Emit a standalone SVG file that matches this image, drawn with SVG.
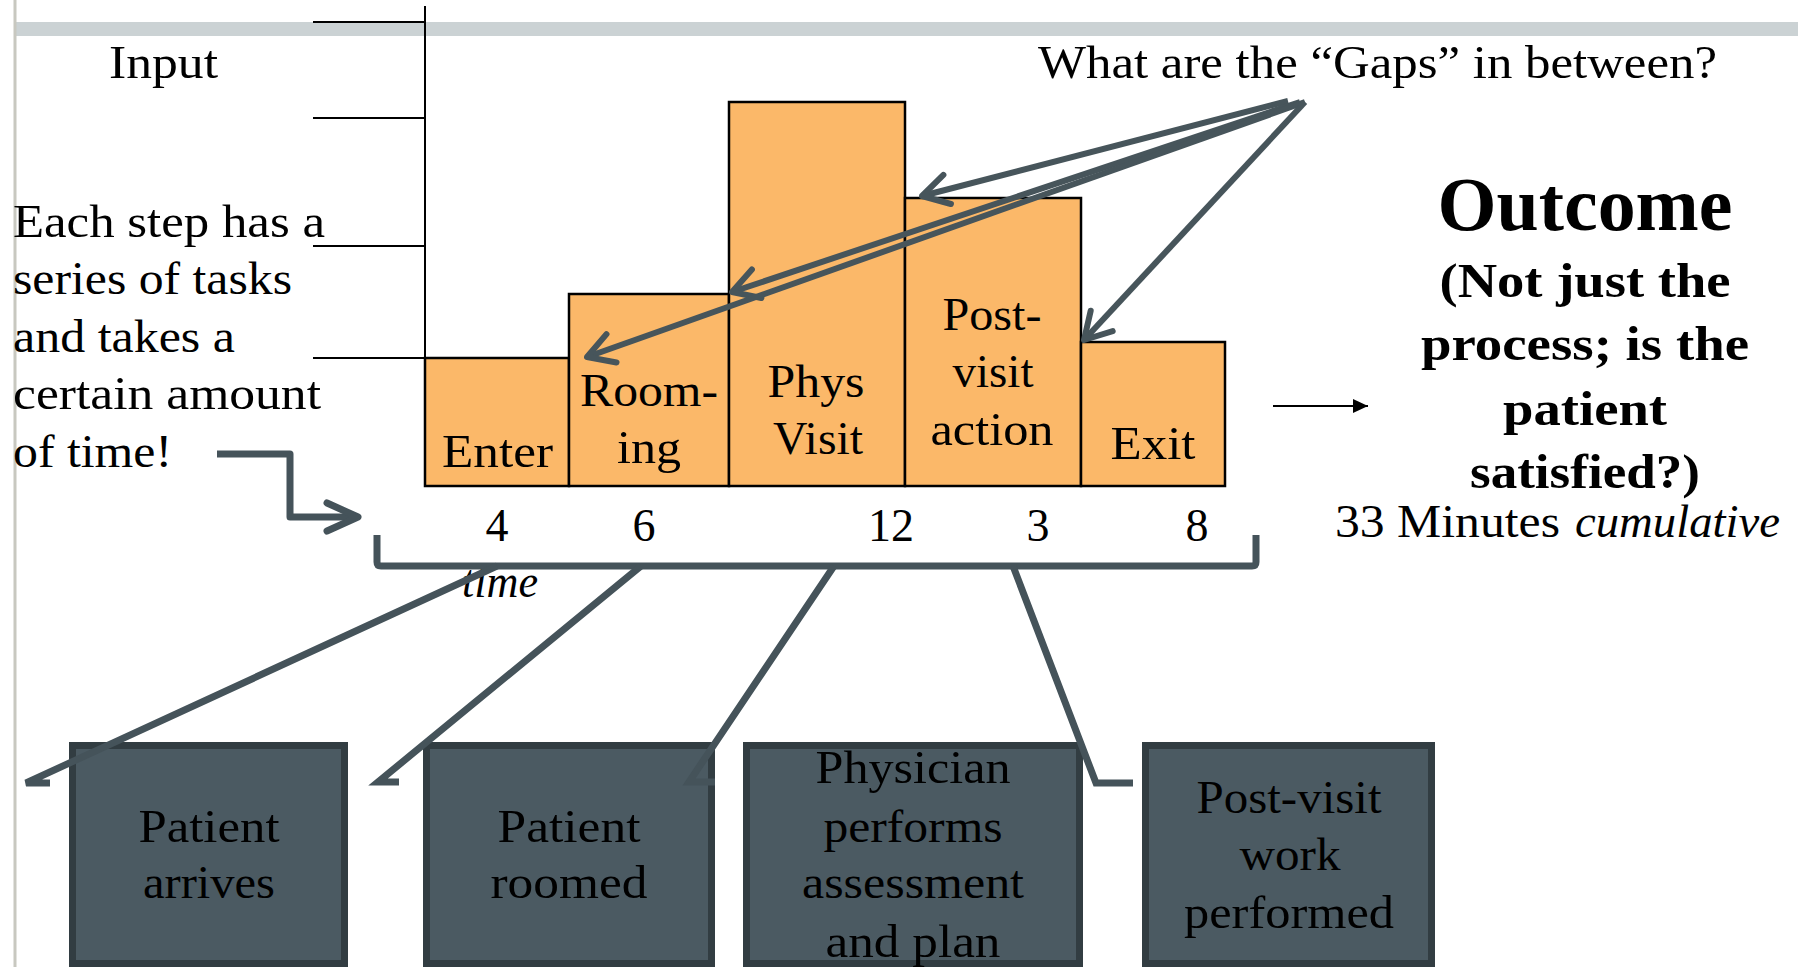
<svg xmlns="http://www.w3.org/2000/svg" width="1798" height="967" viewBox="0 0 1798 967">
  <defs>
    <style>
      .t { font-family: "Liberation Serif", "Times New Roman", serif; font-size: 46px; fill: #000; }
      .tb { font-family: "Liberation Serif", "Times New Roman", serif; font-weight: bold; fill: #000; }
      .it { font-style: italic; }
      .mid { text-anchor: middle; }
      .step { fill: #fbb869; stroke: #000; stroke-width: 2.5; }
      .task { fill: #4b5a62; stroke: #323d42; stroke-width: 7; }
      .axis { stroke: #000; stroke-width: 2; fill: none; }
      .slate { stroke: #45535a; fill: none; stroke-width: 7; }
      .gap { stroke: #47555b; fill: none; stroke-width: 6; }
    </style>
    <marker id="chev" markerUnits="userSpaceOnUse" orient="auto" refX="0" refY="0" markerWidth="40" markerHeight="40" overflow="visible">
      <path d="M-26,-15 L0,0 L-26,15" fill="none" stroke="#47555b" stroke-width="6" stroke-linecap="round" stroke-linejoin="round"/>
    </marker>
    <marker id="chevBig" markerUnits="userSpaceOnUse" orient="auto" refX="0" refY="0" markerWidth="40" markerHeight="40" overflow="visible">
      <path d="M-31,-14 L0,0 L-31,14" fill="none" stroke="#45535a" stroke-width="7" stroke-linecap="round" stroke-linejoin="round"/>
    </marker>
    <marker id="tri" markerUnits="userSpaceOnUse" orient="auto" refX="0" refY="0" markerWidth="20" markerHeight="20" overflow="visible">
      <path d="M-15,-7 L0,0 L-15,7 Z" fill="#000"/>
    </marker>
  </defs>

  <rect width="1798" height="967" fill="#fff"/>

  <!-- page frame: top band and left rule -->
  <rect x="15" y="22" width="1783" height="14" fill="#cbd2d4"/>
  <line x1="15" y1="0" x2="15" y2="967" stroke="#c8c8c0" stroke-width="3"/>

  <!-- vertical axis and tick lines -->
  <g id="axis">
    <line class="axis" x1="425" y1="6" x2="425" y2="358"/>
    <line class="axis" x1="313" y1="22" x2="425" y2="22"/>
    <line class="axis" x1="313" y1="118" x2="425" y2="118"/>
    <line class="axis" x1="313" y1="246" x2="425" y2="246"/>
    <line class="axis" x1="313" y1="358" x2="425" y2="358"/>
  </g>

  <g id="input-label">
    <text class="t" x="109" y="78" textLength="109" lengthAdjust="spacingAndGlyphs">Input</text>
  </g>

  <g id="step-note">
    <text class="t" x="13" y="237" font-size="45" textLength="312" lengthAdjust="spacingAndGlyphs">Each step has a</text>
    <text class="t" x="13" y="294" font-size="45" textLength="279" lengthAdjust="spacingAndGlyphs">series of tasks</text>
    <text class="t" x="13" y="352" font-size="45" textLength="222" lengthAdjust="spacingAndGlyphs">and takes a</text>
    <text class="t" x="13" y="409" font-size="45" textLength="308" lengthAdjust="spacingAndGlyphs">certain amount</text>
    <text class="t" x="13" y="467" font-size="45" textLength="159" lengthAdjust="spacingAndGlyphs">of time!</text>
  </g>

  <!-- process steps -->
  <g id="step-enter">
    <rect class="step" x="425" y="358" width="144" height="128"/>
    <text class="t mid" x="497.5" y="467" textLength="111" lengthAdjust="spacingAndGlyphs">Enter</text>
  </g>
  <g id="step-rooming">
    <rect class="step" x="569" y="294" width="160" height="192"/>
    <text class="t mid" x="649" y="406" textLength="138" lengthAdjust="spacingAndGlyphs">Room-</text>
    <text class="t mid" x="649" y="463" textLength="64" lengthAdjust="spacingAndGlyphs">ing</text>
  </g>
  <g id="step-phys">
    <rect class="step" x="729" y="102" width="176" height="384"/>
    <text class="t mid" x="816" y="397" textLength="97" lengthAdjust="spacingAndGlyphs">Phys</text>
    <text class="t mid" x="818" y="454" textLength="90" lengthAdjust="spacingAndGlyphs">Visit</text>
  </g>
  <g id="step-postvisit">
    <rect class="step" x="905" y="198" width="176" height="288"/>
    <text class="t mid" x="992" y="330" textLength="99" lengthAdjust="spacingAndGlyphs">Post-</text>
    <text class="t mid" x="993" y="387" textLength="81" lengthAdjust="spacingAndGlyphs">visit</text>
    <text class="t mid" x="992" y="445" textLength="123" lengthAdjust="spacingAndGlyphs">action</text>
  </g>
  <g id="step-exit">
    <rect class="step" x="1081" y="342" width="144" height="144"/>
    <text class="t mid" x="1153" y="459" textLength="85" lengthAdjust="spacingAndGlyphs">Exit</text>
  </g>

  <!-- minutes per step -->
  <g id="durations">
    <text class="t mid" x="497" y="541">4</text>
    <text class="t mid" x="644" y="541">6</text>
    <text class="t mid" x="891" y="541">12</text>
    <text class="t mid" x="1038" y="541">3</text>
    <text class="t mid" x="1197" y="541">8</text>
    <text class="t it" x="462" y="597" textLength="76" lengthAdjust="spacingAndGlyphs">time</text>
  </g>

  <g id="gaps-question">
    <text class="t" x="1038" y="78" textLength="679" lengthAdjust="spacingAndGlyphs">What are the “Gaps” in between?</text>
  </g>

  <g id="outcome">
    <text class="tb mid" x="1585" y="230" font-size="76" textLength="295" lengthAdjust="spacingAndGlyphs">Outcome</text>
    <text class="tb mid" x="1585" y="297" font-size="48" textLength="291" lengthAdjust="spacingAndGlyphs">(Not just the</text>
    <text class="tb mid" x="1585" y="360" font-size="48" textLength="328" lengthAdjust="spacingAndGlyphs">process; is the</text>
    <text class="tb mid" x="1585" y="425" font-size="48" textLength="164" lengthAdjust="spacingAndGlyphs">patient</text>
    <text class="tb mid" x="1585" y="488" font-size="48" textLength="230" lengthAdjust="spacingAndGlyphs">satisfied?)</text>
    <text class="t" x="1335" y="537" textLength="225" lengthAdjust="spacingAndGlyphs">33 Minutes</text>
    <text class="t it" x="1575" y="537" textLength="205" lengthAdjust="spacingAndGlyphs">cumulative</text>
  </g>

  <!-- tasks behind each step -->
  <g id="task-arrives">
    <rect class="task" x="72.5" y="745.5" width="272" height="218"/>
    <text class="t mid" x="209" y="842" textLength="141" lengthAdjust="spacingAndGlyphs">Patient</text>
    <text class="t mid" x="209" y="898" textLength="132" lengthAdjust="spacingAndGlyphs">arrives</text>
  </g>
  <g id="task-roomed">
    <rect class="task" x="426.5" y="745.5" width="285" height="218"/>
    <text class="t mid" x="569" y="842" textLength="143" lengthAdjust="spacingAndGlyphs">Patient</text>
    <text class="t mid" x="569" y="898" textLength="157" lengthAdjust="spacingAndGlyphs">roomed</text>
  </g>
  <g id="task-physician">
    <rect class="task" x="746.5" y="745.5" width="333" height="218"/>
    <text class="t mid" x="913" y="783" textLength="195" lengthAdjust="spacingAndGlyphs">Physician</text>
    <text class="t mid" x="913" y="842" textLength="179" lengthAdjust="spacingAndGlyphs">performs</text>
    <text class="t mid" x="913" y="898" textLength="222" lengthAdjust="spacingAndGlyphs">assessment</text>
    <text class="t mid" x="913" y="957" textLength="175" lengthAdjust="spacingAndGlyphs">and plan</text>
  </g>
  <g id="task-postvisit">
    <rect class="task" x="1145.5" y="745.5" width="286" height="218"/>
    <text class="t mid" x="1289" y="813" textLength="185" lengthAdjust="spacingAndGlyphs">Post-visit</text>
    <text class="t mid" x="1290" y="870" textLength="101" lengthAdjust="spacingAndGlyphs">work</text>
    <text class="t mid" x="1289" y="928" textLength="210" lengthAdjust="spacingAndGlyphs">performed</text>
  </g>

  <!-- connectors -->
  <g id="connectors">
    <!-- note to time axis -->
    <path class="slate" d="M217,454 L290,454 L290,517 L358,517" stroke-linejoin="round" marker-end="url(#chevBig)"/>
    <!-- time bracket -->
    <path class="slate" d="M377,535 L377,562 Q377,566 381,566 L1252,566 Q1256,566 1256,562 L1256,535"/>
    <!-- bracket to tasks -->
    <polyline class="slate" points="497,566 26,783 50,783"/>
    <polyline class="slate" points="641,566 378,782 399,782"/>
    <polyline class="slate" points="834,566 689,782 715,782"/>
    <polyline class="slate" points="1013,566 1096,783 1133,783"/>
    <!-- gaps between steps -->
    <line class="gap" x1="1288" y1="101" x2="922" y2="196" marker-end="url(#chev)"/>
    <line class="gap" x1="1300" y1="102" x2="732" y2="292" marker-end="url(#chev)"/>
    <line class="gap" x1="1305" y1="102" x2="587" y2="357" marker-end="url(#chev)"/>
    <line class="gap" x1="1305" y1="102" x2="1084" y2="340" marker-end="url(#chev)"/>
    <!-- process to outcome -->
    <line x1="1273" y1="406" x2="1368" y2="406" stroke="#000" stroke-width="2" marker-end="url(#tri)"/>
  </g>
</svg>
